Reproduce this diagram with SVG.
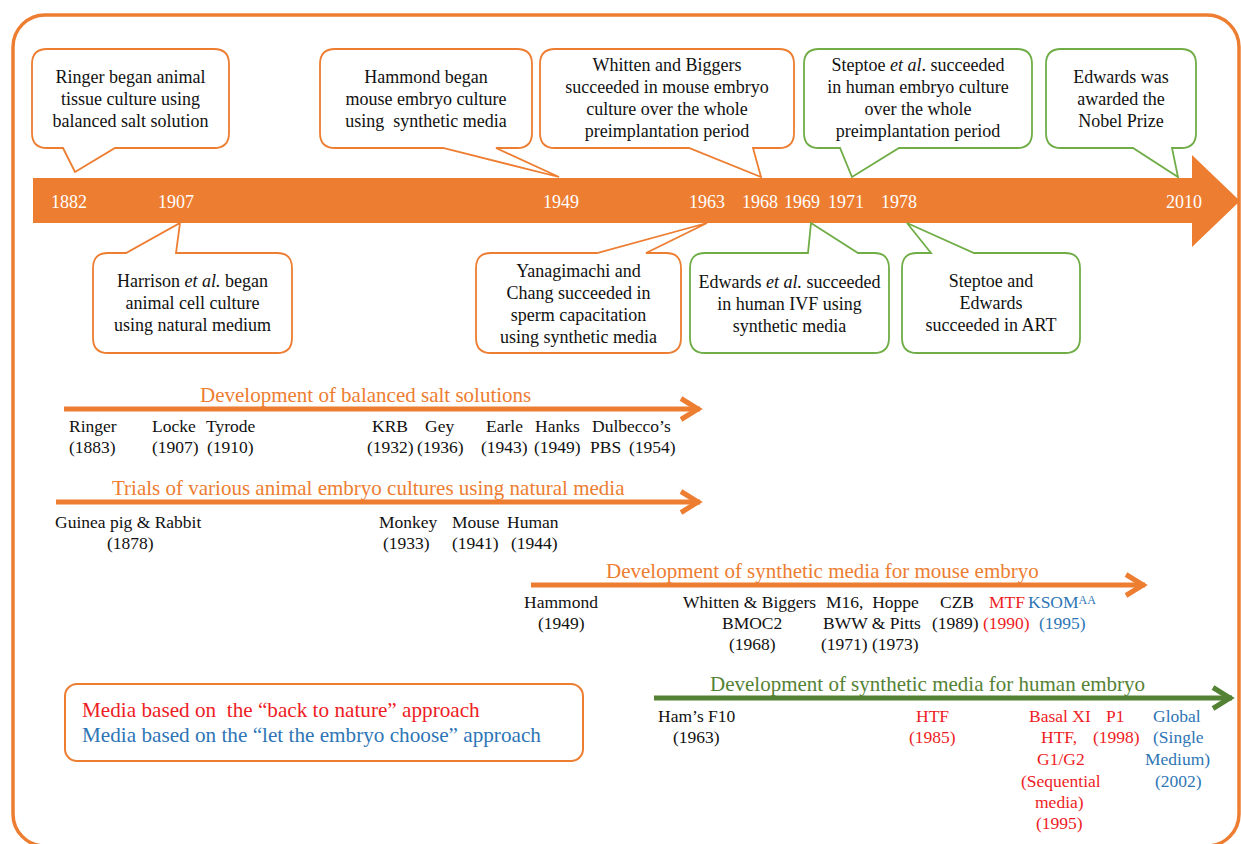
<svg xmlns="http://www.w3.org/2000/svg" width="1241" height="844" viewBox="0 0 1241 844">
<style>
text{font-family:"Liberation Serif","Times New Roman",serif;}
.frame{fill:none;stroke:#ED7D31;stroke-width:3.5;}
.co{fill:#fff;stroke:#ED7D31;stroke-width:1.8;}
.cg{fill:#fff;stroke:#70AD47;stroke-width:1.8;}
.ct{font-size:18px;fill:#111;text-anchor:middle;}
.yr{font-size:18px;fill:#fff;}
.it{font-size:17.5px;fill:#111;}
.red{fill:#EE1C25;}
.blue{fill:#2E75B6;}
.ttl{font-size:21px;fill:#ED7D31;}
.ttlg{font-size:21px;fill:#548235;}
.aro{fill:none;stroke:#ED7D31;stroke-width:5;}
.arg{fill:none;stroke:#548235;stroke-width:5;}
.lg{font-size:21.2px;}
</style>
<defs>
<marker id="hO" markerUnits="userSpaceOnUse" markerWidth="30" markerHeight="30" viewBox="0 0 30 30" refX="22" refY="15" orient="auto" overflow="visible">
<path d="M3,4.5 L20,15 L3,25.5" fill="none" stroke="#ED7D31" stroke-width="5"/>
</marker>
<marker id="hG" markerUnits="userSpaceOnUse" markerWidth="30" markerHeight="30" viewBox="0 0 30 30" refX="22" refY="15" orient="auto" overflow="visible">
<path d="M3,4.5 L20,15 L3,25.5" fill="none" stroke="#548235" stroke-width="5"/>
</marker>
</defs>
<rect width="1241" height="844" fill="#fff"/>
<rect class="frame" x="13" y="15" width="1226" height="831" rx="32"/>

<g id="timeline">
<polygon points="33,178 1192,178 1192,155 1240,201 1192,247 1192,223 33,223" fill="#ED7D31"/>
<text class="yr" x="51" y="208">1882</text>
<text class="yr" x="158" y="208">1907</text>
<text class="yr" x="543" y="208">1949</text>
<text class="yr" x="689" y="208">1963</text>
<text class="yr" x="742" y="208">1968</text>
<text class="yr" x="784" y="208">1969</text>
<text class="yr" x="828" y="208">1971</text>
<text class="yr" x="881" y="208">1978</text>
<text class="yr" x="1166" y="208">2010</text>
</g>

<g id="c-ringer">
<path class="co" d="M47,49 H214 Q229,49 229,64 V133 Q229,148 214,148 H115 L75,172 L63,148 H47 Q32,148 32,133 V64 Q32,49 47,49 Z"/>
<text class="ct" x="130.5" y="83">Ringer began animal</text>
<text class="ct" x="130.5" y="105">tissue culture using</text>
<text class="ct" x="130.5" y="127">balanced salt solution</text>
</g>
<g id="c-hammond">
<path class="co" d="M335,49 H517 Q532,49 532,64 V133 Q532,148 517,148 H496 L559,177 L443,148 H335 Q320,148 320,133 V64 Q320,49 335,49 Z"/>
<text class="ct" x="426" y="83">Hammond began</text>
<text class="ct" x="426" y="105">mouse embryo culture</text>
<text class="ct" x="426" y="127" xml:space="preserve">using  synthetic media</text>
</g>
<g id="c-whitten">
<path class="co" d="M555,49 H779 Q794,49 794,64 V133 Q794,148 779,148 H753 L761,177 L689,148 H555 Q540,148 540,133 V64 Q540,49 555,49 Z"/>
<text class="ct" x="667" y="71">Whitten and Biggers</text>
<text class="ct" x="667" y="93">succeeded in mouse embryo</text>
<text class="ct" x="667" y="115">culture over the whole</text>
<text class="ct" x="667" y="137">preimplantation period</text>
</g>
<g id="c-steptoe1">
<path class="cg" d="M819,49 H1017 Q1032,49 1032,64 V133 Q1032,148 1017,148 H899 L852,177 L840,148 H819 Q804,148 804,133 V64 Q804,49 819,49 Z"/>
<text class="ct" x="918" y="71">Steptoe <tspan font-style="italic">et al</tspan>. succeeded</text>
<text class="ct" x="918" y="93">in human embryo culture</text>
<text class="ct" x="918" y="115">over the whole</text>
<text class="ct" x="918" y="137">preimplantation period</text>
</g>
<g id="c-nobel">
<path class="cg" d="M1061,49 H1181 Q1196,49 1196,64 V133 Q1196,148 1181,148 H1172 L1178,177 L1133,148 H1061 Q1046,148 1046,133 V64 Q1046,49 1061,49 Z"/>
<text class="ct" x="1121" y="83">Edwards was</text>
<text class="ct" x="1121" y="105">awarded the</text>
<text class="ct" x="1121" y="127">Nobel Prize</text>
</g>
<g id="c-harrison">
<path class="co" d="M108,253 H126 L180,223 L176,253 H277 Q292,253 292,268 V338 Q292,353 277,353 H108 Q93,353 93,338 V268 Q93,253 108,253 Z"/>
<text class="ct" x="192.5" y="287">Harrison <tspan font-style="italic">et al.</tspan> began</text>
<text class="ct" x="192.5" y="309">animal cell culture</text>
<text class="ct" x="192.5" y="331">using natural medium</text>
</g>
<g id="c-yanagimachi">
<path class="co" d="M491,253 H597 L707,223 L646,253 H666 Q681,253 681,268 V338 Q681,353 666,353 H491 Q476,353 476,338 V268 Q476,253 491,253 Z"/>
<text class="ct" x="578.5" y="277">Yanagimachi and</text>
<text class="ct" x="578.5" y="299">Chang succeeded in</text>
<text class="ct" x="578.5" y="321">sperm capacitation</text>
<text class="ct" x="578.5" y="343">using synthetic media</text>
</g>
<g id="c-edwards-ivf">
<path class="cg" d="M705,253 H808 L811,223 L858,253 H874 Q889,253 889,268 V338 Q889,353 874,353 H705 Q690,353 690,338 V268 Q690,253 705,253 Z"/>
<text class="ct" x="789.5" y="288">Edwards <tspan font-style="italic">et al.</tspan> succeeded</text>
<text class="ct" x="789.5" y="310">in human IVF using</text>
<text class="ct" x="789.5" y="332">synthetic media</text>
</g>
<g id="c-art">
<path class="cg" d="M917,253 H931 L907,223 L974,253 H1065 Q1080,253 1080,268 V338 Q1080,353 1065,353 H917 Q902,353 902,338 V268 Q902,253 917,253 Z"/>
<text class="ct" x="991" y="287">Steptoe and</text>
<text class="ct" x="991" y="309">Edwards</text>
<text class="ct" x="991" y="331">succeeded in ART</text>
</g>

<g id="connectors">
<line class="aro" x1="64" y1="409" x2="700" y2="409" marker-end="url(#hO)"/>
<line class="aro" x1="56" y1="502" x2="700" y2="502" marker-end="url(#hO)"/>
<line class="aro" x1="531" y1="585" x2="1145" y2="585" marker-end="url(#hO)"/>
<line class="arg" x1="654" y1="698" x2="1232" y2="698" marker-end="url(#hG)"/>
</g>

<g id="salt">
<text class="ttl" x="200" y="402">Development of balanced salt solutions</text>
<text class="it" x="69" y="432">Ringer</text><text class="it" x="69" y="453">(1883)</text>
<text class="it" x="152" y="432">Locke</text><text class="it" x="152" y="453">(1907)</text>
<text class="it" x="206" y="432">Tyrode</text><text class="it" x="207" y="453">(1910)</text>
<text class="it" x="372" y="432">KRB</text><text class="it" x="367" y="453">(1932)</text>
<text class="it" x="425" y="432">Gey</text><text class="it" x="417" y="453">(1936)</text>
<text class="it" x="486" y="432">Earle</text><text class="it" x="481" y="453">(1943)</text>
<text class="it" x="535" y="432">Hanks</text><text class="it" x="534" y="453">(1949)</text>
<text class="it" x="592" y="432">Dulbecco’s</text><text class="it" x="590" y="453">PBS</text><text class="it" x="629" y="453">(1954)</text>
</g>

<g id="natural">
<text class="ttl" x="112" y="495">Trials of various animal embryo cultures using natural media</text>
<text class="it" x="55" y="528">Guinea pig &amp; Rabbit</text><text class="it" x="107" y="549">(1878)</text>
<text class="it" x="379" y="528">Monkey</text><text class="it" x="383" y="549">(1933)</text>
<text class="it" x="452" y="528">Mouse</text><text class="it" x="452" y="549">(1941)</text>
<text class="it" x="507" y="528">Human</text><text class="it" x="511" y="549">(1944)</text>
</g>

<g id="mouse">
<text class="ttl" x="606" y="578">Development of synthetic media for mouse embryo</text>
<text class="it" x="524" y="608">Hammond</text><text class="it" x="538" y="629">(1949)</text>
<text class="it" x="683" y="608">Whitten &amp; Biggers</text><text class="it" x="722" y="629">BMOC2</text><text class="it" x="729" y="650">(1968)</text>
<text class="it" x="826" y="608" xml:space="preserve">M16,  Hoppe</text><text class="it" x="823" y="629">BWW &amp; Pitts</text><text class="it" x="821" y="650">(1971) (1973)</text>
<text class="it" x="940" y="608">CZB</text><text class="it" x="932" y="629">(1989)</text>
<text class="it red" x="989" y="608">MTF</text><text class="it red" x="983" y="629">(1990)</text>
<text class="it blue" x="1028" y="608">KSOM<tspan font-size="12" dy="-4">AA</tspan></text><text class="it blue" x="1039" y="629">(1995)</text>
</g>

<g id="human">
<text class="ttlg" x="710" y="691">Development of synthetic media for human embryo</text>
<text class="it" x="658" y="722">Ham’s F10</text><text class="it" x="673" y="743">(1963)</text>
<text class="it red" x="916" y="722">HTF</text><text class="it red" x="909" y="743">(1985)</text>
<text class="it red" x="1029" y="722">Basal XI</text>
<text class="it red" x="1041" y="743">HTF,</text>
<text class="it red" x="1037" y="765">G1/G2</text>
<text class="it red" x="1021" y="787">(Sequential</text>
<text class="it red" x="1035" y="808">media)</text>
<text class="it red" x="1036" y="829">(1995)</text>
<text class="it red" x="1106" y="722">P1</text><text class="it red" x="1093" y="743">(1998)</text>
<text class="it blue" x="1153" y="722">Global</text>
<text class="it blue" x="1153" y="743">(Single</text>
<text class="it blue" x="1145" y="765">Medium)</text>
<text class="it blue" x="1155" y="787">(2002)</text>
</g>

<g id="legend">
<rect x="65" y="684" width="518" height="77" rx="12" fill="#fff" stroke="#ED7D31" stroke-width="2"/>
<text class="lg red" x="82" y="717" xml:space="preserve">Media based on  the “back to nature” approach</text>
<text class="lg blue" x="82" y="742">Media based on the “let the embryo choose” approach</text>
</g>
</svg>
